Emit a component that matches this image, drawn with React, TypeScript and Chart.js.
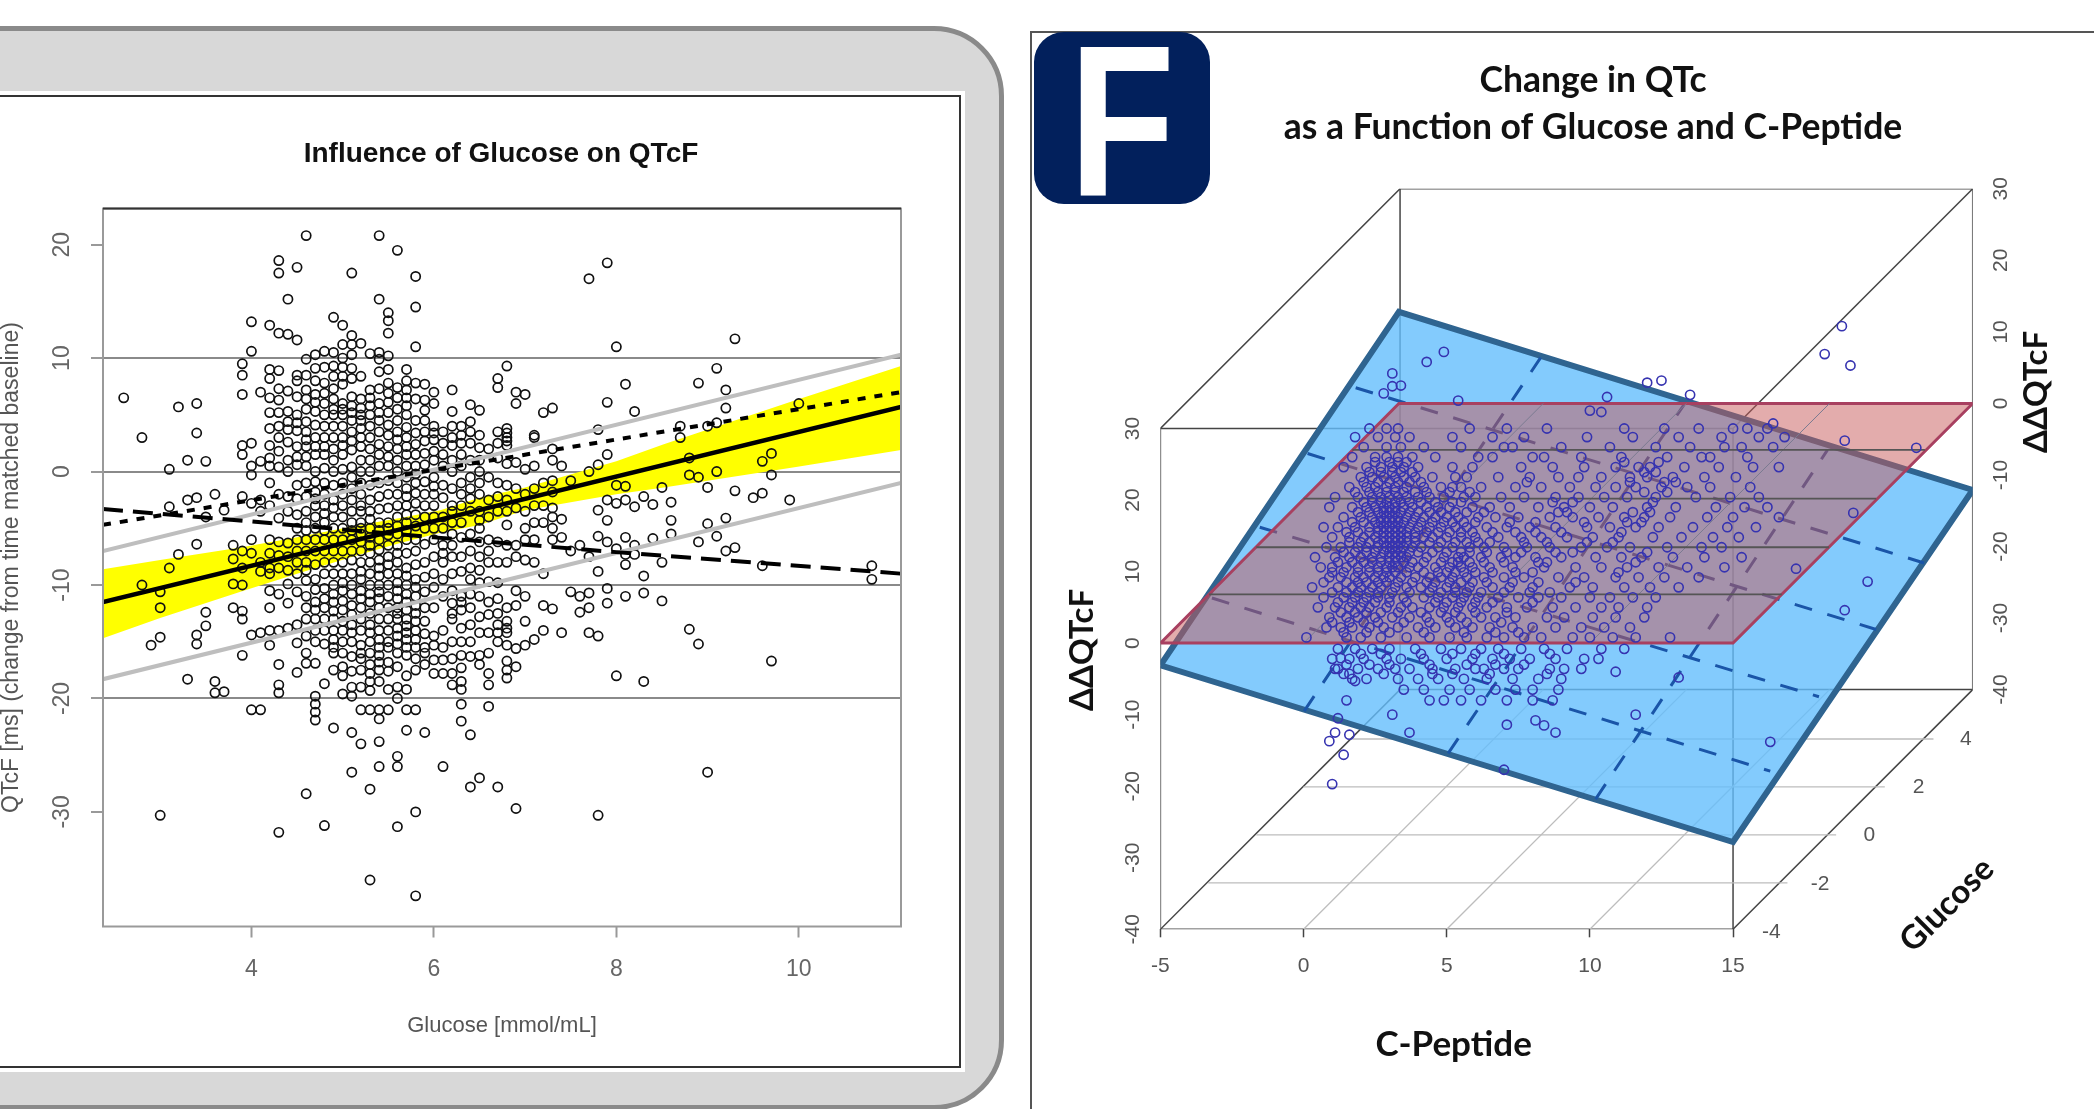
import React, { useEffect, useRef } from "react";
import { Chart, registerables } from "chart.js";
Chart.register(...registerables);

// ---------- left chart ----------
const leftTitle = "Influence of Glucose on QTcF";
const leftXTitle = "Glucose [mmol/mL]";
const leftYTitle = "QTcF [ms] (change from time matched baseline)";
const leftXTicks = [4, 6, 8, 10];
const leftYTicks = [20, 10, 0, -10, -20, -30];
const leftGrid = [10, 0, -10, -20];

const glucoseColumns: [number, number[]][] = [
  [2.6, [6.5]], [2.8, [3, -10]], [2.9, [-15.3]], [3.0, [-30.3, -14.6, -12, -10.6]],
  [3.1, [0.2, -3.1, -8.5]], [3.2, [5.7, -7.3]], [3.3, [1, -2.5, -18.3]],
  [3.4, [6, 3.4, -2.3, -6.4, -14.4, -15.2]], [3.5, [0.9, -4, -12.4, -13.6]],
  [3.6, [-2, -18.5, -19.5]], [3.7, [-19.4, -3.4]], [3.8, [-6.5, -7.7, -9.9, -12]],
  [3.9, [9.5, 8.5, 6.8, 2.3, 1.5, -2.2, -7, -8.5, -10, -12.3, -13, -16.2]],
  [4.0, [13.2, 10.6, 2.5, 0.5, -0.3, -2.8, -6, -7.2, -14.4, -21]],
  [4.1, [7, 0.9, -2.5, -3.5, -8, -8.8, -14.2, -21]],
  [4.2, [12.9, 9, 8.2, 6.5, 3.8, 1.2, 0.5, -1, -6, -8.5, -9, -12, -14, -15.3]],
  [4.3, [18.6, 17.5, 12.2, 8.9, 6.3, 4, 3, 1.8, -2, -6.2, -8.5, -14, -17, -18.8, -19.5, -31.8]],
  [4.4, [15.2, 12.1, 5.3, 3.7, 2.6, 1, -2.2, -6.3, -7.5, -8.7, -13.8]],
  [4.5, [18, 11.6, 8.5, 8, 5, 3.6, 2.2, 0.6, -2.4, -3.8, -5, -7, -9, -13.5, -17.7]],
  [4.6, [20.8, 9.9, 7.2, 5.5, 3.5, 2.2, 0.5, -1, -3.5, -4.5, -6, -8, -9.6, -11, -13, -16, -16.9, -28.4]],
  [4.7, [10.3, 8, 6.8, 5.3, 3, 1.5, 0, -1.8, -3, -5, -7, -9.5, -11.5, -13, -15, -16.9, -19.8, -20.5, -21.2, -21.9]],
  [4.8, [10.6, 7.8, 6, 5, 3, 1.5, -1, -3, -4.5, -6, -8, -10.3, -12, -14, -18.7, -31.2]],
  [4.9, [13.6, 10.5, 9.3, 5.5, 4, 2, 0, -2.5, -4, -6, -8, -10, -11.5, -13, -14.8, -16, -22.6]],
  [5.0, [12.9, 10, 9.2, 7.7, 6, 5, 3, 1.5, -1, -3, -5, -7, -9, -10.5, -12.2, -14, -16, -17.2, -19.6]],
  [5.1, [17.5, 12, 11.2, 9.1, 5.8, 4.5, 3.5, 1.9, -1.5, -2.5, -4.5, -6, -7.8, -10, -11.8, -13.5, -15, -19, -19.8, -23, -26.5]],
  [5.2, [11.3, 5.6, 4.5, 3, 1, -1, -3, -3.5, -4.5, -5.5, -7, -8.8, -10.5, -12, -15.3, -16.5, -21, -24]],
  [5.3, [6.5, 5.8, 4, 2, 0, -2.5, -3.5, -5, -6.5, -8, -10, -11.5, -13.5, -15, -17, -18.5, -28, -36]],
  [5.4, [20.8, 15.2, 10.5, 9.9, 6, 4.5, 2.4, 0.5, -2.2, -4.5, -6, -7.8, -8.5, -10, -11.2, -12, -14, -15.5, -16.8, -21, -21.8, -23.8, -26]],
  [5.5, [14, 13.3, 12.2, 10.2, 9, 6.9, 5.2, 2.2, 0.5, -2, -4.5, -5.6, -7.5, -9, -11, -14, -15.5, -16.8, -19.2, -21]],
  [5.6, [19.5, 6.5, 5.5, 3.5, 2, 0, -2, -4, -5.5, -6.5, -8, -9, -10.5, -12, -13, -14.5, -16, -19, -20, -25.1, -26, -31.3]],
  [5.7, [9, 8, 6.5, 5, 3, 1.5, -1.5, -3, -4.5, -6, -8.5, -10, -11.5, -13, -14.2, -15.5, -19.2, -21, -22.8]],
  [5.8, [17.2, 14.5, 11, 7.8, 4.5, 2.4, 0.5, -1, -2.8, -4.8, -7, -9.5, -11, -12.5, -14, -15.5, -17.5, -21, -30, -37.4]],
  [5.9, [7.7, 6.3, 3.5, 2.7, 0.6, -2, -3, -5, -8, -9.3, -12, -14.3, -15.5, -16, -23]],
  [6.0, [7, 4, 2.8, 1, -1.3, -2, -4, -6, -9, -15.3, -17.8]],
  [6.1, [3.5, 2.5, 0.5, -1.2, -5, -8, -9.5, -15.5, -17.8, -26]],
  [6.2, [7.2, 5.3, 3, 2.3, 0, -3, -3.5, -5.5, -7.5, -9, -12.5, -13, -16.5, -17.8]],
  [6.3, [4, 2.5, 0.5, -3, -5.8, -7.5, -11, -11.5, -13.8, -17.3, -18.5, -19.2, -20.5, -22]],
  [6.4, [5.9, 3.5, 2.5, 1, -1.5, -3.5, -7, -9.5, -12, -13.5, -15, -23.2, -27.8]],
  [6.5, [5.4, 3.2, 1, -1, -2, -3.5, -5, -8.7, -11, -12.8, -16.2, -17, -27]],
  [6.6, [-2.5, -6, -8, -9.7, -11.5, -14.2, -18.8, -17.8, -20.7]],
  [6.7, [8.2, 7.4, 3.5, 2.5, -1, -3.5, -8, -11.2, -13.5, -14.2, -27.8]],
  [6.8, [9.3, 3.8, 3, 2.3, 0.7, -2.5, -4.7, -6.5, -12, -14.2, -15.3, -16.7, -18.2]],
  [6.9, [7, 6, 0.8, -1.5, -6.5, -10.5, -17.2, -29.7]],
  [7.0, [6.8, -2, -5, -6, -11, -13.2, -15.3]],
  [7.1, [3.2, 0.5, -1.5, -3, -6, -14.8]],
  [7.2, [5.2, -1, -3, -4.5, -9, -11.8, -14]],
  [7.3, [5.6, 2, 1, -0.8, -3.2, -4, -6, -12.1]],
  [7.4, [0.5, -4.2, -5.8, -14.2]],
  [7.5, [-0.8, -7, -10.6]],
  [7.6, [-6.5, -11, -12.4]],
  [7.7, [17, 0, -7.5, -10.7, -12, -14.2]],
  [7.8, [3.7, 0.6, -3.4, -5.7, -8.8, -14.5, -30.3]],
  [7.9, [18.4, 6.1, 1.5, -2.5, -4.3, -6.2, -10.3, -11.6]],
  [8.0, [11, -1.2, -2.8, -6.8, -18]],
  [8.1, [7.7, -1.3, -2.5, -5.8, -7.3, -8.2, -11]],
  [8.2, [5.3, -3.1, -6.5, -7.3]],
  [8.3, [-2.2, -9.2, -10.7, -18.5]],
  [8.4, [-2.9, -5.9]],
  [8.5, [-1.4, -8, -11.4]],
  [8.6, [-2.7, -4.3, -5.5]],
  [8.7, [4, 3]],
  [8.8, [1.2, -0.3, -13.9]],
  [8.9, [7.8, -0.5, -6.2, -15.2]],
  [9.0, [4, -1.4, -4.6, -26.5]],
  [9.1, [9.1, 4.3, 0, -5.7]],
  [9.2, [7.2, 5.6, -4.1, -7]],
  [9.3, [11.7, -1.7, -6.7]],
  [9.5, [-2.3]],
  [9.6, [0.9, -1.9, -8.3]],
  [9.7, [1.6, -0.3, -16.7]],
  [9.9, [-2.5]],
  [10.0, [6]],
  [10.8, [-8.3, -9.5]],
];
// the crowded middle of the cloud, read as a second pass over the same columns
const glucoseColumnsDense: [number, number[]][] = [
  [4.2, [5.2, 2.3, -3, -7.2, -10.5]],
  [4.3, [7.3, 5.2, 0.4, -4.1, -7.4, -10.8]],
  [4.4, [7.1, 4.4, 0, -3.5, -9.9, -11.6]],
  [4.5, [6.6, 4.3, 1.3, -1.2, -6, -8, -10.6, -15.1]],
  [4.6, [8.5, 6.4, 4.4, 2.8, 1.3, -2.2, -5.2, -7, -8.7, -12, -14.5]],
  [4.7, [9.1, 6.1, 4.1, 2.2, -0.9, -2.4, -4, -6, -8.2, -10.4, -12.2, -14]],
  [4.8, [9.2, 6.9, 4, 2.2, 0.3, -2, -3.7, -5.2, -7, -9, -11.2, -13, -15.2]],
  [4.9, [8.4, 7.3, 6.4, 5, 3, 1, -1.2, -3.2, -5, -7, -9, -10.8, -12.3, -14, -15.5, -17.5]],
  [5.0, [11.2, 8.4, 5.5, 4, 2.3, 0.2, -2, -4, -6, -8, -9.8, -11.4, -13.2, -15, -18]],
  [5.1, [10.3, 8.2, 6.6, 5.2, 2.7, 0.4, -0.5, -3.5, -5.2, -7, -9, -10.8, -12.6, -14.2, -16.3, -17.6]],
  [5.2, [8.4, 6.4, 5, 3.8, 2.2, 0, -2, -5, -6.2, -8, -9.5, -11.2, -13, -14, -16, -17.5, -19]],
  [5.3, [10.4, 7.2, 5, 3, 1, -1.2, -4.2, -5.8, -7.2, -9, -10.8, -12.5, -14.2, -16, -17.8, -19.3, -21]],
  [5.4, [8.8, 7.3, 5.2, 3.5, 1.5, -1, -3.3, -5.2, -6.9, -9.2, -10.6, -13, -14.8, -16.2, -17.5, -18.5]],
  [5.5, [7.8, 6.1, 4.1, 3.2, 1.3, -0.8, -3.2, -5, -6.5, -8.2, -10, -12, -13, -15, -17.6]],
  [5.6, [7.4, 4.5, 2.8, 1, -1, -3, -4.8, -7.2, -9.8, -11.2, -12.5, -13.8, -15.2, -17.2]],
  [5.7, [7.2, 5.8, 3.9, 2.2, 0.5, -0.5, -2.2, -3.8, -5.2, -7.2, -9.2, -10.8, -12.2, -13.6, -14.8, -16.2, -18]],
  [5.8, [6.4, 3.4, 1.5, -0.2, -1.9, -3.8, -6, -8.2, -10.2, -11.8, -13.2, -14.8, -16.5]],
  [5.9, [5.4, 4.5, 1.6, -0.9, -4, -6.4, -10.6, -13.2, -17]],
  [6.0, [6, 3.4, 1.8, -0.5, -3, -5, -7.5, -10.2, -12, -14.5, -16.6]],
  [6.1, [1.5, -2.3, -4, -6.5, -7.2, -11, -14, -16.6]],
  [6.2, [4, 1, -1.5, -4.5, -6.5, -10.5, -11.6, -15, -18.8]],
  [6.3, [3.2, 1.5, -1, -2, -4.5, -8.8, -12.2, -15, -16.2]],
  [6.4, [4.4, -0.5, -2.4, -5.5, -8.5, -10.8, -16.3]],
  [6.5, [2.1, 0, -4.3, -6.2, -7.5, -9.8, -14.2]],
  [6.6, [2, -0.5, -4, -7, -12.6, -16]],
  [6.7, [1.2, -2.2, -6.2, -9.8, -12.5, -15]],
  [6.8, [3.4, 2.7, -1.2, -3.5, -8, -13.2, -13.8, -17.5]],
  [6.9, [-3.2, -7.5, -11.8, -15.6]],
  [7.0, [0.2, -3.5, -7.8]],
  [7.1, [3, -4.5, -8]],
  [7.3, [-1.8, -5]],
];

const bandX = [2.373, 3, 3.88, 4.5, 5.19, 5.63, 6.07, 6.5, 7, 8, 8.52, 9.97, 11.12];
const bandUpper = [-8.6, -7.8, -6.7, -5.8, -4.7, -4.1, -3.4, -2.3, -1.4, 0.9, 2.4, 6.3, 9.3];
const bandLower = [-14.7, -12.9, -10.6, -9, -7.3, -6.3, -5.4, -4.7, -3.4, -2, -1.4, 0.4, 1.9];
const fitX = [2.373, 11.12];
const fitY = [-11.5, 5.7];
const predUpperY = [-7, 10.3];
const predLowerY = [-18.3, -1];
const longDashX = [2.373, 4, 6, 8, 11.12];
const longDashY = [-3.3, -4.4, -5.8, -7.1, -9];
const shortDashY = [-4.7, 7];

// ---------- right chart ----------
const rightTitle = ["Change in QTc", "as a Function of Glucose and C-Peptide"];
const cPeptideTicks = [-5, 0, 5, 10, 15];
const qtFrontTicks = [-40, -30, -20, -10, 0, 10, 20, 30];
const qtBackTicks = [-6.5, 3.5, 13.5, 23.5, 33.5, 43.5, 53.5, 63.5];
const glucoseLabels = ["-4", "-2", "0", "2", "4"];
const glucoseLabelX = [16.34, 18.04, 19.76, 21.48, 23.13];
const glucoseLabelY = [-40.4, -33.7, -26.8, -20.1, -13.4];

const boxLines: [number, number][][] = [
  [[-5, -40], [15, -40], [15, 30], [-5, 30], [-5, -40]],
  [[3.37, -6.5], [23.37, -6.5], [23.37, 63.5], [3.37, 63.5], [3.37, -6.5]],
  [[-5, 30], [3.37, 63.5]], [[15, 30], [23.37, 63.5]],
  [[-5, -40], [3.37, -6.5]], [[15, -40], [23.37, -6.5]],
];
const floorGrid: [number, number][][] = [
  [[-3.33, -33.5], [16.9, -33.5]], [[-1.65, -26.8], [18.6, -26.8]],
  [[0, -20.1], [20.3, -20.1]], [[1.7, -13.4], [22, -13.4]],
  [[0, -40], [8.37, -6.5]], [[5, -40], [13.37, -6.5]], [[10, -40], [18.37, -6.5]],
];
const bluePlane: [number, number][] = [[-5, -3.1], [15, -27.8], [23.37, 21.4], [3.33, 46.3], [-5, -3.1]];
const blueDashes: [number, number][][] = [
  [[1.82, 35.7], [21.67, 11.2]], [[0.14, 26.5], [20, 1.9]],
  [[-1.53, 16.2], [18, -7.5]], [[-3.2, 6.3], [16.3, -17.9]],
  [[0.02, -9.5], [8.28, 39.9]], [[5.05, -15.4], [13.3, 33.4]], [[10.2, -21.8], [18.3, 27]],
];
const redPlane: [number, number][] = [[-5, 0], [15, 0], [23.37, 33.5], [3.33, 33.5], [-5, 0]];
const redRows: [number, number][][] = [
  [[-3.3, 6.8], [16.7, 6.8]], [[-1.65, 13.4], [18.35, 13.4]],
  [[0, 20.2], [20, 20.2]], [[1.7, 27], [21.7, 27]],
];
const redCross: [number, number][][] = [
  [[0, 0], [8.37, 33.5]], [[5, 0], [13.37, 33.5]], [[10, 0], [18.37, 33.5]],
];

const scatterLoose: [number, number][] = [
  [18.8, 44.3], [18.2, 40.4], [19.1, 38.8], [21.4, 27.3], [18.9, 28.3], [16.4, 30.7], [15.5, 30],
  [13.5, 34.7], [12.5, 36.7], [12, 36.4], [10.6, 34.4], [10, 32.5], [10.4, 32.3], [5.4, 33.9],
  [4.9, 40.7], [4.3, 39.3], [3.1, 37.7], [3.1, 35.9], [2.8, 34.9], [3.4, 36],
  [1, -19.7], [1.4, -15.6], [0.9, -13.7], [1.1, -12.5], [1.6, -12.8], [1.2, -10.5], [1.5, -8],
  [1.1, -3.6], [1.3, -2.1], [1.8, -5.3], [3.1, -10], [3.7, -12.5], [7.1, -11.4], [8.1, -10.8],
  [8.4, -11.5], [8.8, -12.5], [16.3, -13.8], [11.6, -10], [10.9, -4], [13.1, -4.8], [7, -17.7],
  [18.9, 4.6], [19.7, 8.6], [17.2, 10.4], [19.2, 18.2],
];
const scatterRows: [number, number[]][] = [
  [30, [2.3, 2.9, 3.3, 5.8, 7.1, 8.5, 11.2, 12.6, 13.8, 15, 16.2]],
  [28.8, [1.8, 2.6, 3.2, 3.7, 5.2, 6.6, 7.7, 9.9, 11.5, 13.1, 14.6, 15.9, 16.8]],
  [27.4, [2.1, 2.9, 3.4, 4.2, 5.5, 7, 7.3, 9, 10.7, 12.3, 13.5, 14.7, 15.3, 16.4]],
  [26, [1.7, 2.5, 2.9, 3.3, 3.8, 4.6, 6.1, 6.6, 8, 8.4, 9.7, 11.1, 12.7, 13.9, 14.2, 15.5]],
  [24.6, [1.4, 2.2, 2.7, 3.1, 3.5, 4, 5.2, 5.9, 7.6, 8.7, 9.8, 10.9, 11.7, 12.1, 13.3, 14.5, 15.7, 16.6]],
  [23.2, [2, 2.4, 2.8, 3.2, 3.5, 3.9, 4.5, 5.3, 5.7, 6.8, 7.9, 8.9, 9.6, 10.4, 11.4, 12, 12.9, 14, 15.1]],
  [21.8, [1.6, 2.2, 2.5, 2.9, 3.2, 3.6, 4.2, 4.8, 5.2, 5.5, 6.2, 7.4, 8.3, 9.3, 10.2, 10.9, 11.6, 12.5, 13.4, 14.2, 15.6]],
  [20.4, [1.1, 1.9, 2.4, 2.7, 3, 3.3, 3.6, 4, 4.4, 4.9, 5.6, 6, 6.9, 7.7, 8.8, 9.6, 10.5, 11.3, 12.3, 13.7, 14.9, 15.9]],
  [19, [0.9, 1.7, 2.2, 2.5, 2.8, 3, 3.2, 3.5, 3.8, 4.3, 4.7, 5.1, 5.9, 6.5, 7.2, 8.2, 9.1, 10, 10.8, 12, 13, 14.4, 15.4, 16.2]],
  [17.6, [1.4, 2, 2.4, 2.7, 2.9, 3.1, 3.3, 3.6, 3.9, 4.2, 4.6, 5, 5.4, 6.1, 6.7, 7.5, 8.6, 9.4, 10.3, 11.2, 11.9, 12.8, 14.1, 15, 16.6]],
  [16.2, [0.7, 1.2, 1.8, 2.3, 2.6, 2.8, 3, 3.2, 3.4, 3.7, 4, 4.4, 4.8, 5.3, 5.7, 6.4, 7.1, 7.9, 8.8, 9.9, 10.7, 11.6, 12.4, 13.6, 14.8, 15.8]],
  [14.8, [1, 1.6, 2.1, 2.5, 2.8, 3, 3.2, 3.4, 3.6, 3.9, 4.2, 4.5, 5, 5.5, 6, 6.8, 7.6, 8.3, 9.2, 10.1, 11, 12.2, 13.2, 14.3, 15.2]],
  [13.4, [0.8, 1.3, 1.9, 2.2, 2.6, 2.9, 3.1, 3.3, 3.5, 3.8, 4.1, 4.7, 5.2, 5.8, 6.3, 7, 7.8, 8.6, 9.7, 10.6, 11.4, 12.7, 13.9, 14.6]],
  [12, [0.4, 1.1, 1.6, 2, 2.4, 2.7, 3, 3.2, 3.4, 3.6, 4.3, 4.9, 5.4, 5.6, 6.2, 6.9, 7.4, 8.1, 9, 10.2, 11.1, 11.8, 12.9, 14, 15.3]],
  [10.6, [0.6, 1, 1.5, 1.9, 2.3, 2.6, 2.9, 3.1, 3.3, 3.7, 4, 4.6, 5.1, 5.5, 5.9, 6.5, 7.3, 8.4, 9.5, 10.4, 11.3, 12.4, 13.4, 14.7]],
  [9.2, [0.9, 1.3, 1.8, 2.1, 2.5, 2.8, 3, 3.4, 3.9, 4.4, 4.8, 5.2, 5.7, 6.3, 7, 7.7, 8.9, 9.8, 10.9, 11.7, 12.6, 13.8]],
  [7.8, [0.3, 1.2, 1.7, 2, 2.4, 2.7, 3.2, 3.6, 4.1, 4.5, 5, 5.3, 5.8, 6.6, 7.2, 8, 9.3, 10.1, 11.2, 12.1, 13.1]],
  [6.4, [0.7, 1.4, 1.8, 2.2, 2.6, 3, 3.5, 4.2, 4.7, 5.2, 5.6, 6.1, 6.8, 7.5, 8.2, 9, 10, 10.7, 11.5, 12.3]],
  [5, [0.5, 1.1, 1.6, 2, 2.3, 2.9, 3.4, 3.8, 4.4, 4.9, 5.4, 5.9, 6.4, 7.1, 7.8, 8.7, 9.5, 10.4, 11, 12]],
  [3.6, [0.9, 1.5, 1.9, 2.5, 3.1, 3.7, 4.3, 5, 5.5, 6.2, 6.7, 7.4, 8.5, 9.1, 10.1, 10.9, 11.9]],
  [2.2, [0.8, 1.3, 1.7, 2.3, 2.8, 3.3, 4, 4.6, 5.3, 5.9, 6.5, 7.3, 8, 8.8, 9.7, 10.5, 11.4]],
  [0.8, [0.1, 1.5, 2, 2.7, 3.6, 4.4, 5.1, 5.7, 6.4, 7, 7.7, 8.3, 9.4, 10, 10.8, 11.6, 12.8]],
  [-0.8, [1.2, 1.8, 2.4, 3, 3.9, 4.8, 5.5, 6.2, 6.8, 7.6, 8.4, 9.2, 10.4, 11.2]],
  [-2.2, [1, 1.6, 2.1, 2.9, 3.4, 4.2, 5, 5.9, 6.6, 7.2, 7.9, 8.8, 9.8, 10.3]],
  [-3.6, [1.2, 1.9, 2.6, 3.2, 3.7, 4.5, 5.3, 6, 6.3, 7, 7.5, 8.6, 9.1, 9.7]],
  [-5, [1.7, 2.2, 3.3, 4, 4.7, 5.6, 6.4, 7.3, 8.2, 9]],
  [-6.5, [3.5, 4.2, 5.1, 5.8, 6.7, 7.4, 8, 8.9]],
  [-8, [4.4, 4.9, 5.5, 6.2, 7.1, 8, 8.7]],
];
// the blob around C-Peptide 2-6, read as a second pass between the rows above
const scatterRowsDense: [number, number[]][] = [
  [25.3, [2.5, 3, 3.3, 3.6, 11.2, 12.4]],
  [23.9, [2.3, 2.7, 3.1, 3.4, 3.8, 11.9, 12.3]],
  [22.5, [2.1, 2.6, 3, 3.3, 3.7, 4.1, 7.8, 11.4, 12.6, 13]],
  [21.1, [1.8, 2.3, 2.6, 2.9, 3.2, 3.5, 3.9, 4.3, 5.1, 5.8, 11.9, 12.7]],
  [19.7, [2.1, 2.4, 2.7, 2.9, 3.2, 3.4, 3.7, 4.1, 4.6, 5.2, 5.5, 8.7, 9.4, 12.2]],
  [18.3, [1.9, 2.3, 2.6, 2.8, 3, 3.2, 3.4, 3.7, 4, 4.4, 4.8, 5.3, 5.7, 6.3, 8.9, 9.2, 11.5, 12.1]],
  [16.9, [1.7, 2.1, 2.5, 2.7, 2.9, 3.1, 3.3, 3.5, 3.8, 4.1, 4.5, 4.9, 5.2, 5.6, 6, 7.2, 8.1, 9.8, 11.3, 11.8]],
  [15.5, [1.5, 1.9, 2.3, 2.6, 2.8, 3, 3.2, 3.4, 3.6, 3.9, 4.3, 4.7, 5.1, 5.5, 5.9, 6.6, 7.4, 8.1, 9, 11.1]],
  [14.1, [1.6, 2, 2.3, 2.6, 2.8, 3, 3.2, 3.4, 3.6, 3.9, 4.4, 4.8, 5.3, 5.7, 6.1, 6.5, 7.7, 8.5, 9.9, 10.8]],
  [12.7, [1.4, 1.8, 2.2, 2.5, 2.8, 3, 3.2, 3.4, 3.7, 4, 4.5, 5, 5.5, 5.8, 6.4, 7.1, 7.6, 8.8, 9.4, 12]],
  [11.3, [1.2, 1.7, 2.1, 2.4, 2.7, 3, 3.2, 3.5, 3.8, 4.2, 4.8, 5.2, 5.4, 5.8, 6.3, 7, 8.2, 8.5, 11.6]],
  [9.9, [1, 1.4, 1.9, 2.3, 2.6, 2.9, 3.2, 3.6, 4.2, 4.7, 5, 5.3, 5.6, 6, 6.6, 7.4, 8, 11]],
  [8.5, [0.7, 1.5, 1.9, 2.2, 2.6, 2.9, 3.3, 3.8, 4.3, 4.6, 5.1, 5.5, 5.9, 6.4, 7.3, 8.2, 9.5]],
  [7.1, [1, 1.5, 1.9, 2.3, 2.6, 3.1, 3.7, 4.4, 4.8, 5.3, 5.7, 6.2, 7, 7.9, 8.6]],
  [5.7, [1.2, 1.7, 2.1, 2.5, 3, 3.6, 4.6, 5, 5.5, 6, 6.6, 8]],
  [4.3, [1.3, 1.8, 2.2, 2.7, 3.3, 4.1, 4.8, 5.3, 6, 7.1]],
  [2.9, [1, 1.6, 2.1, 2.6, 3.5, 4.4, 5.1, 5.7, 6.9]],
  [1.5, [1.4, 2.2, 3, 4.2, 5.6, 6.7, 7.5]],
  [-1.5, [2, 2.7, 4.1, 5.2, 6, 7, 8.6]],
  [-3, [1.5, 2.3, 3, 4.4, 5.7, 6.7, 7.7]],
  [-4.3, [1.4, 1.6, 2.8, 4.5, 5.2, 6.5, 8.5]],
];

const pts = (a: [number, number][]) => a.map(([x, y]) => ({ x, y }));
const zip = (xs: number[], ys: number[]) => xs.map((x, i) => ({ x, y: ys[i] }));
const line = (data: any, color: string, width: number, order: number, dash: number[] = [], extra: any = {}) => ({
  data, showLine: true, borderColor: color, borderWidth: width, borderDash: dash,
  pointRadius: 0, order, fill: false, tension: 0, ...extra,
});

const plotBorder = {
  id: "plotBorder",
  afterDatasetsDraw(chart: any) {
    const { ctx, chartArea: a } = chart;
    ctx.save();
    ctx.strokeStyle = "#9a9a9a";
    ctx.lineWidth = 2;
    ctx.strokeRect(a.left, a.top, a.right - a.left, a.bottom - a.top);
    ctx.strokeStyle = "#333";
    ctx.beginPath();
    ctx.moveTo(a.left, a.top);
    ctx.lineTo(a.right, a.top);
    ctx.stroke();
    ctx.restore();
  },
};

const sceneLabels = {
  id: "sceneLabels",
  afterDraw(chart: any) {
    const { ctx, scales } = chart;
    const { x, y } = scales;
    ctx.save();
    ctx.fillStyle = "#555";
    ctx.font = "21px 'Liberation Sans'";
    ctx.textAlign = "center";
    ctx.textBaseline = "middle";
    glucoseLabels.forEach((t, i) => {
      ctx.fillText(t, x.getPixelForValue(glucoseLabelX[i]), y.getPixelForValue(glucoseLabelY[i]));
    });
    ctx.fillStyle = "#111";
    ctx.font = "bold 33px Lato";
    const rotated = (t: string, px: number, py: number, a: number) => {
      ctx.save();
      ctx.translate(px, py);
      ctx.rotate(a);
      ctx.fillText(t, 0, 0);
      ctx.restore();
    };
    rotated("ΔΔQTcF", 1006, 361, -Math.PI / 2);
    rotated("ΔΔQTcF", 52, 619, -Math.PI / 2);
    rotated("Glucose", 917, 874, -Math.PI / 4);
    ctx.font = "bold 35px Lato";
    rotated("C-Peptide", 423.6, 1014, 0);
    ctx.restore();
  },
};

export default function App() {
  const leftRef = useRef<HTMLCanvasElement>(null);
  const rightRef = useRef<HTMLCanvasElement>(null);

  useEffect(() => {
    document.body.style.margin = "0";
    document.body.style.overflow = "hidden";
    const scatterPoints = [...glucoseColumns, ...glucoseColumnsDense].flatMap(([g, vals]) => vals.map((v) => ({ x: g, y: v })));
    const left = new Chart(leftRef.current!, {
      type: "scatter",
      data: {
        datasets: [
          line(zip(bandX, bandUpper), "transparent", 0, 10, [], { fill: "+1", backgroundColor: "#FFFF00" }),
          line(zip(bandX, bandLower), "transparent", 0, 9),
          { data: scatterPoints, pointRadius: 4.6, pointStyle: "circle", borderWidth: 1.7, pointBorderColor: "#111", pointBackgroundColor: "transparent", order: 5 },
          line(zip(fitX, predUpperY), "#BEBEBE", 4, 4),
          line(zip(fitX, predLowerY), "#BEBEBE", 4, 4),
          line(zip(longDashX, longDashY), "#000", 4, 3, [20, 10]),
          line(zip(fitX, shortDashY), "#000", 4, 2, [8, 9]),
          line(zip(fitX, fitY), "#000", 4.5, 1),
        ],
      } as any,
      plugins: [plotBorder],
      options: {
        responsive: false,
        animation: false,
        events: [],
        layout: { padding: { right: 30, left: 30, top: 0, bottom: 0 } },
        plugins: {
          legend: { display: false },
          tooltip: { enabled: false },
          filler: { drawTime: "beforeDatasetDraw" },
          title: {
            display: true,
            text: leftTitle,
            color: "#111",
            font: { family: "'Liberation Sans'", size: 28, weight: "bold", lineHeight: 1.2 },
            padding: { top: 41.2, bottom: 37.8 },
          },
        },
        scales: {
          x: {
            type: "linear",
            min: 2.373,
            max: 11.12,
            afterBuildTicks: (s: any) => { s.ticks = leftXTicks.map((value) => ({ value })); },
            afterFit: (s: any) => { s.height = 139.5; },
            grid: { drawOnChartArea: false, tickLength: 11, tickColor: "#999", tickWidth: 2 },
            border: { display: false },
            ticks: { color: "#666", font: { family: "'Liberation Sans'", size: 23 }, padding: 18, maxRotation: 0, callback: (v: any) => String(v) },
            title: { display: true, text: leftXTitle, color: "#555", font: { family: "'Liberation Sans'", size: 22, lineHeight: 1.2 }, padding: { top: 0, bottom: 27.3 } },
          },
          y: {
            type: "linear",
            min: -40.1,
            max: 23.18,
            afterBuildTicks: (s: any) => { s.ticks = leftYTicks.map((value) => ({ value })); },
            afterFit: (s: any) => { s.width = 73; },
            grid: {
              color: (c: any) => (leftGrid.includes(c.tick?.value) ? "#8a8a8a" : "transparent"),
              lineWidth: 2,
              tickLength: 12,
              tickColor: "#999",
              tickWidth: 2,
            },
            border: { display: false },
            ticks: { color: "#666", font: { family: "'Liberation Sans'", size: 23 }, padding: 12, minRotation: 90, maxRotation: 90, crossAlign: "center", callback: (v: any) => String(v) },
            title: { display: true, text: leftYTitle, color: "#555", font: { family: "'Liberation Sans'", size: 23, lineHeight: 1.2 }, padding: { top: -32, bottom: 0 } },
          },
          yPad: {
            type: "linear",
            position: "right",
            min: -40.1,
            max: 23.18,
            afterFit: (s: any) => { s.width = 71; },
            grid: { display: false, drawTicks: false },
            border: { display: false },
            ticks: { display: false },
          },
        },
      } as any,
    });

    const rowPoints = [...scatterRows, ...scatterRowsDense].flatMap(([y, xs]) => xs.map((x) => ({ x, y })));
    const right = new Chart(rightRef.current!, {
      type: "scatter",
      data: {
        datasets: [
          ...boxLines.map((l) => line(pts(l), "#444", 1.5, 20)),
          ...floorGrid.map((l) => line(pts(l), "#bdbdbd", 1.3, 19)),
          line(pts(bluePlane), "#2F6490", 6, 15, [], { fill: "shape", backgroundColor: "rgba(100,190,252,0.8)" }),
          ...blueDashes.map((l) => line(pts(l), "#1A55A8", 3, 14, [18, 16])),
          line(pts(redPlane), "#A84060", 3, 12, [], { fill: "shape", backgroundColor: "rgba(200,90,90,0.5)" }),
          ...redRows.map((l) => line(pts(l), "#555", 1.8, 11)),
          ...redCross.map((l) => line(pts(l), "#7a7a90", 1, 11)),
          { data: [...pts(scatterLoose), ...rowPoints], pointRadius: 4.6, borderWidth: 1.6, pointBorderColor: "#3633B0", pointBackgroundColor: "transparent", order: 1 },
        ],
      } as any,
      plugins: [sceneLabels],
      options: {
        responsive: false,
        animation: false,
        events: [],
        layout: { padding: { left: 62, right: 0, top: 0, bottom: 0 } },
        plugins: {
          legend: { display: false },
          tooltip: { enabled: false },
          filler: { drawTime: "beforeDatasetDraw" },
          title: {
            display: true,
            text: rightTitle,
            color: "#111",
            font: { family: "Lato", size: 35.5, weight: "bold", lineHeight: 47 / 35.5 },
            padding: { top: 26, bottom: 37.8 },
          },
        },
        scales: {
          x: {
            type: "linear",
            min: -5,
            max: 23.37,
            afterBuildTicks: (s: any) => { s.ticks = cPeptideTicks.map((value) => ({ value })); },
            afterFit: (s: any) => { s.height = 179.7; },
            grid: { drawOnChartArea: false, tickLength: 8, tickColor: "#444", tickWidth: 1.5 },
            border: { display: false },
            ticks: { color: "#555", font: { family: "'Liberation Sans'", size: 21 }, padding: 16, maxRotation: 0, callback: (v: any) => String(v) },
          },
          y: {
            type: "linear",
            position: "left",
            min: -40,
            max: 63.5,
            afterBuildTicks: (s: any) => { s.ticks = qtFrontTicks.map((value) => ({ value })); },
            afterFit: (s: any) => { s.width = 68.4; },
            grid: { display: false, drawTicks: false },
            border: { display: false },
            ticks: { color: "#555", font: { family: "'Liberation Sans'", size: 21 }, padding: 12, minRotation: 90, maxRotation: 90, crossAlign: "center", callback: (v: any) => String(v) },
          },
          y2: {
            type: "linear",
            position: "right",
            min: -40,
            max: 63.5,
            afterBuildTicks: (s: any) => { s.ticks = qtBackTicks.map((value) => ({ value })); },
            afterFit: (s: any) => { s.width = 121.3; },
            grid: { display: false, drawTicks: false },
            border: { display: false },
            ticks: { color: "#555", font: { family: "'Liberation Sans'", size: 21 }, padding: 13, minRotation: 90, maxRotation: 90, crossAlign: "center", callback: (v: any) => String(Math.round(v - 33.5)) },
          },
        },
      } as any,
    });
    return () => {
      left.destroy();
      right.destroy();
    };
  }, []);

  return (
    <div style={{ position: "absolute", left: 0, top: 0, width: 2094, height: 1109, overflow: "hidden", background: "#fff" }}>
      <div style={{ position: "absolute", left: -80, top: 26, width: 1074, height: 1074, background: "#D8D8D8", border: "5px solid #8A8A8A", borderRadius: 70 }} />
      <div style={{ position: "absolute", left: -10, top: 95, width: 967, height: 969, background: "#fff", border: "2px solid #333", boxShadow: "0 0 0 4px #fff" }} />
      <canvas ref={leftRef} width={1002} height={970} style={{ position: "absolute", left: 0, top: 96 }} />
      <div style={{ position: "absolute", left: 1030, top: 31, width: 1100, height: 1120, borderLeft: "2px solid #555", borderTop: "2px solid #555" }} />
      <canvas ref={rightRef} width={1064} height={1078} style={{ position: "absolute", left: 1030, top: 31 }} />
      <div style={{ position: "absolute", left: 1034, top: 32, width: 176, height: 172, background: "#02205C", borderRadius: 30, color: "#fff", fontFamily: "'Liberation Sans'", fontWeight: "bold", fontSize: 216, lineHeight: "176px", textAlign: "center", overflow: "hidden" }}>
        <span style={{ display: "inline-block", transform: "scaleX(0.8)" }}>F</span>
      </div>
    </div>
  );
}
